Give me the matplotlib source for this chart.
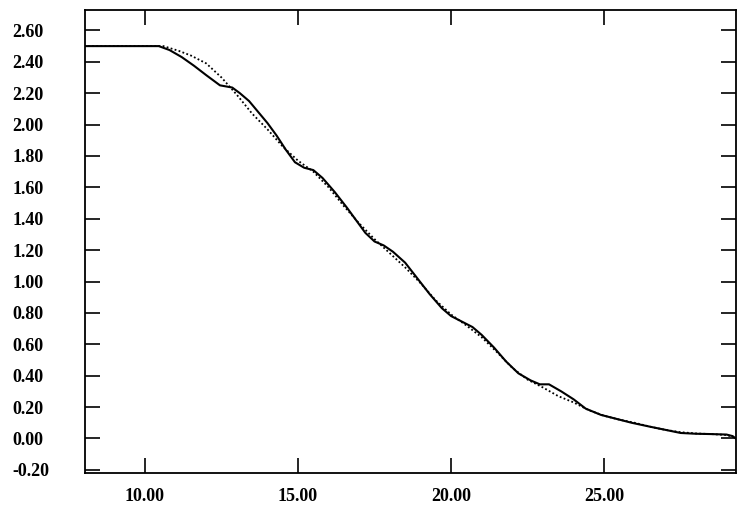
import numpy as np
import matplotlib.pyplot as plt

# solid curve (measured)
x_solid = [8.0, 10.45, 10.8, 11.2, 11.6, 12.0, 12.45, 12.85, 13.1, 13.4, 13.7,
           14.0, 14.3, 14.6, 14.9, 15.2, 15.5, 15.8, 16.2, 16.6, 16.9, 17.2,
           17.5, 17.8, 18.1, 18.5, 18.9, 19.3, 19.7, 20.0, 20.4, 20.7, 21.0,
           21.4, 21.8, 22.2, 22.6, 22.9, 23.2, 23.6, 24.0, 24.4, 24.9, 25.4,
           25.9, 26.5, 27.0, 27.5, 28.0, 28.5, 29.0, 29.2, 29.3]
y_solid = [2.50, 2.50, 2.475, 2.43, 2.375, 2.315, 2.25, 2.236, 2.20, 2.15, 2.08,
           2.01, 1.93, 1.84, 1.76, 1.725, 1.71, 1.66, 1.57, 1.47, 1.39, 1.31,
           1.255, 1.23, 1.19, 1.12, 1.02, 0.92, 0.83, 0.78, 0.74, 0.71, 0.66,
           0.58, 0.49, 0.415, 0.37, 0.345, 0.345, 0.30, 0.25, 0.19, 0.15, 0.125,
           0.10, 0.075, 0.055, 0.035, 0.03, 0.028, 0.025, 0.015, 0.0]

# dotted curve (measured)
x_dot = [8.0, 10.6, 11.1, 11.5, 12.0, 12.5, 13.0, 13.5, 14.0, 14.5, 15.0,
         15.5, 16.0, 16.5, 17.0, 17.5, 18.0, 18.5, 19.0, 19.5, 20.0, 20.5,
         21.0, 21.5, 22.0, 22.5, 23.0, 23.5, 24.0, 24.5, 25.0, 25.5, 26.0,
         26.5, 27.0, 27.5, 28.0, 28.5, 29.0, 29.3]
y_dot = [2.50, 2.50, 2.47, 2.44, 2.39, 2.30, 2.19, 2.07, 1.97, 1.86, 1.77,
         1.70, 1.60, 1.48, 1.37, 1.27, 1.18, 1.09, 0.99, 0.88, 0.79, 0.72,
         0.645, 0.55, 0.45, 0.375, 0.325, 0.27, 0.23, 0.18, 0.145, 0.12, 0.10,
         0.075, 0.055, 0.04, 0.032, 0.028, 0.022, 0.005]

x_ticks = [10, 15, 20, 25]
y_ticks = [-0.2, 0.0, 0.2, 0.4, 0.6, 0.8, 1.0, 1.2, 1.4, 1.6, 1.8, 2.0, 2.2, 2.4, 2.6]

plt.rcParams['font.family'] = ['Liberation Serif', 'DejaVu Serif']
plt.rcParams['font.weight'] = 'bold'

fig = plt.figure(figsize=(7.43, 5.08), dpi=100)
ax = fig.add_axes([0.1144, 0.0689, 0.8762, 0.9114])

ax.plot(x_solid, y_solid, color='black', lw=1.5)
ax.plot(x_dot, y_dot, color='black', lw=1.3, linestyle=(0, (1, 1.3)))

ax.set_xlim(8.04, 29.31)
ax.set_ylim(-0.22, 2.73)
ax.set_xticks(x_ticks)
ax.set_xticklabels([f"{v:.2f}" for v in x_ticks])
ax.set_yticks(y_ticks)
ax.set_yticklabels([f"{v:.2f}" for v in y_ticks])

ax.tick_params(axis='both', direction='in', length=11, width=1.2,
               labelsize=13, top=True, right=True)
ax.tick_params(axis='x', pad=11)
ax.tick_params(axis='y', pad=52.5)
for lab in ax.get_yticklabels():
    lab.set_horizontalalignment('left')

for s in ax.spines.values():
    s.set_linewidth(1.3)

fig.savefig('out.png', dpi=100)
